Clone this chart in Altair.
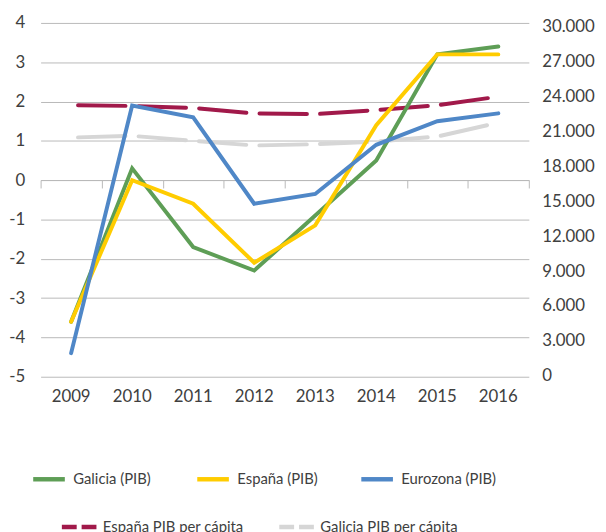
import altair as alt
import pandas as pd

years = ["2009", "2010", "2011", "2012", "2013", "2014", "2015", "2016"]
galicia_pib = [-3.6, 0.3, -1.7, -2.3, -0.9, 0.5, 3.2, 3.4]
espana_pib = [-3.6, 0.0, -0.6, -2.1, -1.15, 1.4, 3.2, 3.2]
eurozona_pib = [-4.4, 1.9, 1.6, -0.6, -0.35, 0.9, 1.5, 1.7]
espana_pc = [23260, 23200, 23030, 22550, 22500, 22840, 23260, 24000]
galicia_pc = [20480, 20630, 20200, 19800, 19910, 20140, 20570, 21760]

solid_names = ["Galicia (PIB)", "España (PIB)", "Eurozona (PIB)"]
solid_colors = ["#5E9E56", "#FFCC00", "#4F87C7"]
dash_names = ["España PIB per cápita", "Galicia PIB per cápita"]
dash_colors = ["#A1194A", "#D6D6D6"]
left_ticks = list(range(-5, 5))
right_ticks = list(range(0, 30001, 3000))

FONT = "Lato"
TXT = "#404040"
GRID = "#B9B9B9"

rows = []
for name, vals in zip(solid_names, [galicia_pib, espana_pib, eurozona_pib]):
    for y, v in zip(years, vals):
        rows.append({"year": y, "serie": name, "value": v})
df_solid = pd.DataFrame(rows)

rows = []
for name, vals in zip(dash_names, [espana_pc, galicia_pc]):
    for y, v in zip(years, vals):
        rows.append({"year": y, "serie": name, "value": v})
df_dash = pd.DataFrame(rows)

xscale = alt.Scale(type="band", paddingInner=0, paddingOuter=0)

x_labels = alt.X(
    "year:O", sort=years, scale=xscale, bandPosition=0.5,
    axis=alt.Axis(orient="bottom", title=None, domain=False, ticks=False, grid=False,
                  labelFont=FONT, labelFontSize=17, labelColor=TXT, labelPadding=12,
                  labelAngle=0),
)
x_zero = alt.X(
    "year:O", sort=years, scale=xscale, bandPosition=0.5,
    axis=alt.Axis(orient="bottom", offset=-199, title=None, labels=False,
                  domain=True, domainColor=GRID, domainWidth=1,
                  ticks=True, tickColor=GRID, tickWidth=1, tickSize=8,
                  tickBand="extent", grid=False),
)

dashed = alt.Chart(df_dash).mark_line(
    strokeWidth=4, strokeDash=[48, 13.3], strokeDashOffset=54.3, strokeCap="round"
).encode(
    x=x_zero,
    y=alt.Y("value:Q",
            scale=alt.Scale(domain=[0, 30000], range=[357, 4], nice=False, zero=False),
            axis=alt.Axis(orient="right", values=right_ticks, title=None, grid=False,
                          domain=False, ticks=False, labelFont=FONT, labelFontSize=17,
                          labelColor=TXT, labelPadding=13,
                          labelExpr="replace(format(datum.value, ',d'), ',', '.')")),
    color=alt.Color("serie:N", sort=dash_names,
                    scale=alt.Scale(domain=dash_names, range=dash_colors),
                    legend=alt.Legend(title=None, orient="none", legendX=19, legendY=490,
                                      direction="horizontal", symbolType="stroke",
                                      symbolSize=1225, symbolStrokeWidth=4.5,
                                      symbolDash=[15, 5], labelFont=FONT, labelFontSize=15,
                                      labelColor=TXT, labelOffset=4, columnPadding=26,
                                      gridAlign="all", padding=0)),
)

solid = alt.Chart(df_solid).mark_line(strokeWidth=4, strokeCap="round").encode(
    x=x_labels,
    y=alt.Y("value:Q",
            scale=alt.Scale(domain=[-5, 4], nice=False, zero=False),
            axis=alt.Axis(orient="left", values=left_ticks, title=None, grid=True,
                          gridColor=GRID, gridWidth=1, domain=False, ticks=False,
                          labelFont=FONT, labelFontSize=17, labelColor=TXT,
                          labelPadding=16, labelExpr="'' + datum.value")),
    color=alt.Color("serie:N", sort=solid_names,
                    scale=alt.Scale(domain=solid_names, range=solid_colors),
                    legend=alt.Legend(title=None, orient="none", legendX=-10, legendY=443,
                                      direction="horizontal", symbolType="stroke",
                                      symbolSize=1024, symbolStrokeWidth=4.5,
                                      labelFont=FONT, labelFontSize=15, labelColor=TXT,
                                      labelOffset=6, columnPadding=20, gridAlign="all",
                                      padding=0)),
)

chart = alt.layer(dashed, solid).resolve_scale(
    y="independent", color="independent"
).resolve_axis(x="independent").properties(
    width=494, height=358,
    autosize=alt.AutoSizeParams(type="none"),
    padding={"left": 33, "top": 12, "right": 70, "bottom": 154},
).configure_view(stroke=None)

chart.save("out.html", embed_options={"renderer": "svg", "actions": False})
